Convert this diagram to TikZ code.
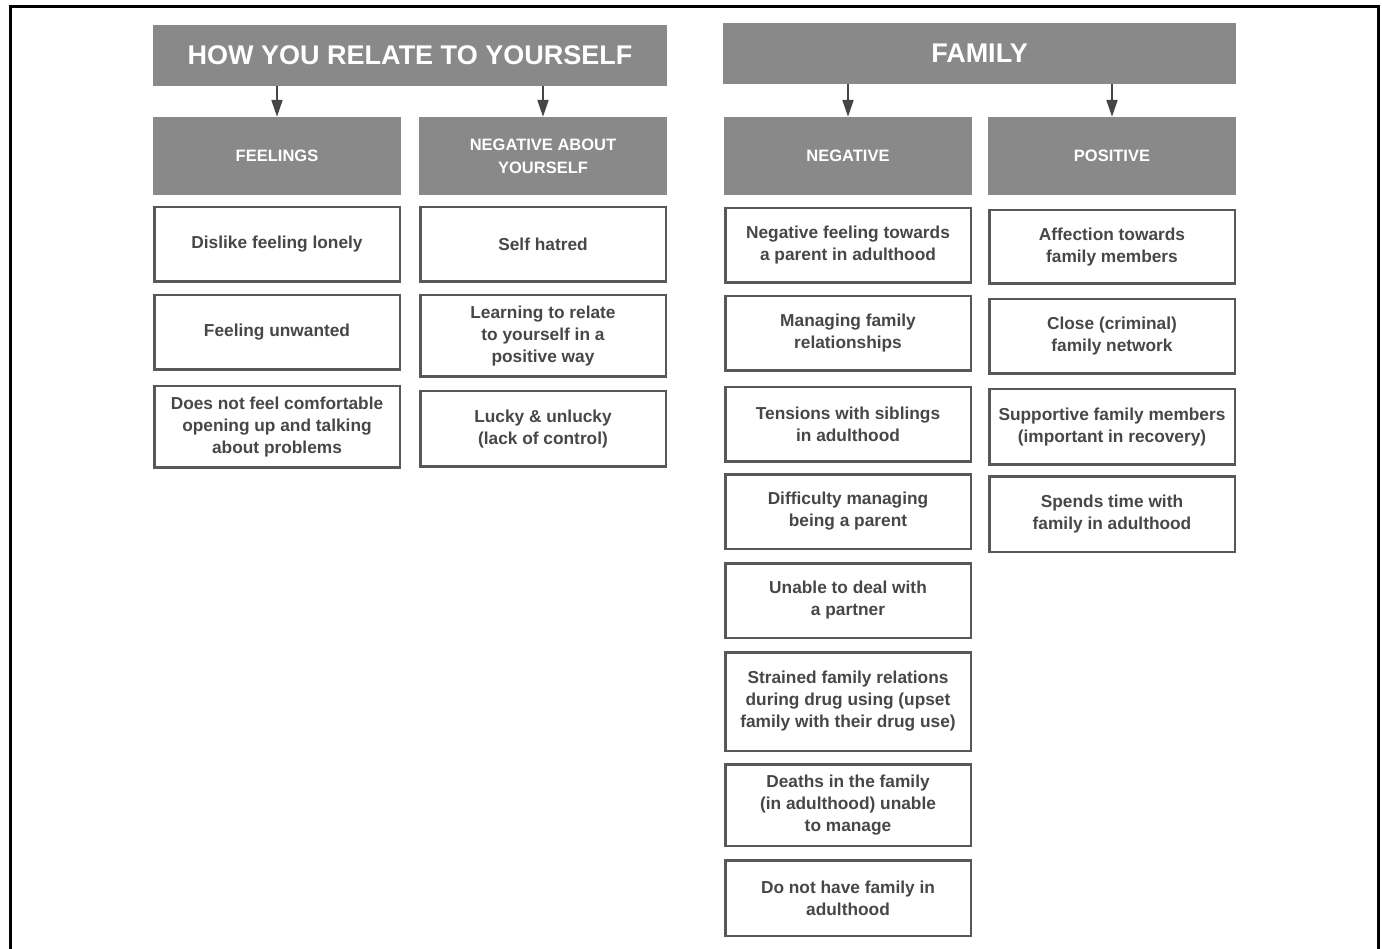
\documentclass[tikz,border=0pt]{standalone}
\usepackage{fontspec}
\setmainfont{Liberation Sans}
\usetikzlibrary{arrows.meta}

\definecolor{blockgray}{HTML}{898989}
\definecolor{inkgray}{HTML}{474747}
\definecolor{rulegray}{HTML}{585858}
\definecolor{arrowgray}{HTML}{454545}

% gray title / category block given by its outer corners
\newcommand{\grayblock}[7]{%
  \node[#1, minimum width={#5-#3}, minimum height={#6-#4}]
    (#2) at ({(#3+#5)/2},{(#4+#6)/2}) {#7};}
% outlined item box given by its outer corners
\newcommand{\itembox}[6]{%
  \node[item, minimum width={#4-#2-2.5}, minimum height={#5-#3-2.5}]
    (#1) at ({(#2+#4)/2},{(#3+#5)/2}) {#6};}

\begin{document}
\begin{tikzpicture}[x=1pt,y=-1pt,
  title/.style={fill=blockgray, text=white, inner sep=0pt, align=center,
    font=\fontsize{27}{32}\selectfont\bfseries},
  category/.style={fill=blockgray, text=white, inner sep=0pt, align=center,
    font=\fontsize{16.5}{22.5}\selectfont\bfseries},
  item/.style={draw=rulegray, line width=2.5pt, fill=white, text=inkgray,
    inner sep=0pt, align=center, font=\fontsize{17.3}{22}\selectfont\bfseries},
  arr/.style={draw=arrowgray, line width=2pt,
    -{Triangle[width=11pt,length=17pt]}, arrowgray}]

\useasboundingbox (0,0) rectangle (1382,949);
\fill[white] (0,0) rectangle (1382,949);

% outer frame
\draw[line width=3pt, black] (10,949) -- (10,7) -- (1378,7) -- (1378,949);

% ---- left panel ----
\grayblock{title}{hL}{153}{25}{667}{86}{HOW YOU RELATE TO YOURSELF}
\grayblock{category}{sFeel}{153}{117}{401}{195.5}{FEELINGS}
\grayblock{category}{sSelf}{419}{117}{667}{195.5}{NEGATIVE ABOUT\\YOURSELF}

\itembox{f1}{153}{206}{401}{283}{Dislike feeling lonely}
\itembox{f2}{153}{294}{401}{371}{Feeling unwanted}
\itembox{f3}{153}{385}{401}{469}{Does not feel comfortable\\opening up and talking\\about problems}

\itembox{y1}{419}{206}{667}{283}{Self hatred}
\itembox{y2}{419}{294}{667}{378}{Learning to relate\\to yourself in a\\positive way}
\itembox{y3}{419}{390}{667}{468}{Lucky \& unlucky\\(lack of control)}

% ---- right panel ----
\grayblock{title}{hR}{723}{23}{1236}{84}{FAMILY}
\grayblock{category}{sNeg}{724}{117}{972}{195.5}{NEGATIVE}
\grayblock{category}{sPos}{988}{117}{1236}{195.5}{POSITIVE}

\itembox{n1}{724}{207}{972}{284}{Negative feeling towards\\a parent in adulthood}
\itembox{n2}{724}{295}{972}{372}{Managing family\\relationships}
\itembox{n3}{724}{386}{972}{463}{Tensions with siblings\\in adulthood}
\itembox{n4}{724}{473}{972}{550}{Difficulty managing\\being a parent}
\itembox{n5}{724}{562}{972}{639}{Unable to deal with\\a partner}
\itembox{n6}{724}{651}{972}{752}{Strained family relations\\during drug using (upset\\family with their drug use)}
\itembox{n7}{724}{763}{972}{847}{Deaths in the family\\(in adulthood) unable\\to manage}
\itembox{n8}{724}{859}{972}{937}{Do not have family in\\adulthood}

\itembox{p1}{988}{209}{1236}{285}{Affection towards\\family members}
\itembox{p2}{988}{298}{1236}{375}{Close (criminal)\\family network}
\itembox{p3}{988}{388}{1236}{466}{Supportive family members\\(important in recovery)}
\itembox{p4}{988}{475}{1236}{553}{Spends time with\\family in adulthood}

% ---- arrows from titles to categories ----
\draw[arr] (sFeel.north |- hL.south) -- (sFeel.north);
\draw[arr] (sSelf.north |- hL.south) -- (sSelf.north);
\draw[arr] (sNeg.north |- hR.south) -- (sNeg.north);
\draw[arr] (sPos.north |- hR.south) -- (sPos.north);

\end{tikzpicture}
\end{document}
